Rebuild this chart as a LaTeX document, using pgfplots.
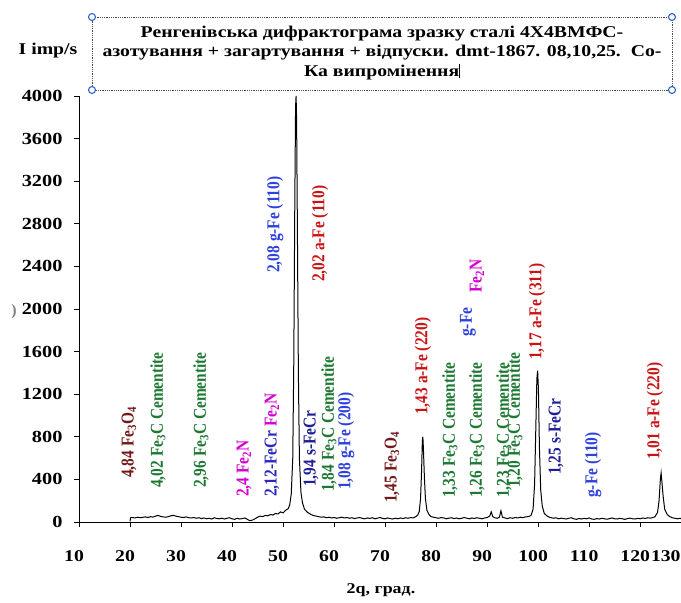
\documentclass[border=0pt]{standalone}
\usepackage{pgfplots}
\pgfplotsset{compat=1.18}
\usepackage{fontspec}
\setmainfont{Liberation Serif}
\newfontfamily\wide[FakeStretch=1.2]{Liberation Serif}
\newfontfamily\narrow[FakeStretch=0.85]{Liberation Serif}

\definecolor{cbrown}{RGB}{115,25,25}
\definecolor{cgreen}{RGB}{30,120,50}
\definecolor{cmag}{RGB}{210,0,210}
\definecolor{cblue}{RGB}{45,65,220}
\definecolor{cblue2}{RGB}{40,40,190}
\definecolor{cnavy}{RGB}{30,30,150}
\definecolor{cred}{RGB}{200,20,20}
\definecolor{handle}{RGB}{50,100,200}

\newcommand{\ann}{\narrow\fontsize{18.2}{18.2}\selectfont\bfseries}
\newcommand{\fec}{Fe\textsubscript{3}C Cementite}

\begin{document}
\begin{tikzpicture}
\useasboundingbox (0,0) rectangle (681bp,603bp);
\begin{axis}[
    at={(79bp,81bp)}, anchor=south west,
    scale only axis, width=602bp, height=426bp,
    xmin=10, xmax=128, ymin=0, ymax=4000,
    axis x line*=bottom, axis y line*=left,
    axis line style={-, line width=0.9bp},
    xtick={10,20,...,120},
    ytick={0,400,...,4000},
    extra x ticks={126}, extra x tick labels={130},
    extra x tick style={tick style={draw=none}},
    tick align=outside, major tick length=5bp,
    tick style={black, line width=0.8bp},
    ticklabel style={font=\wide\fontsize{16.5}{16.5}\selectfont\bfseries},
    yticklabel style={font=\wide\fontsize{17}{17}\selectfont\bfseries, xshift=-8bp},
    /pgf/number format/assume math mode=true,
    /pgf/number format/1000 sep={},
    xticklabel style={yshift=-20bp, xshift=-5bp},
]
% diffractogram
\addplot[black, line width=1bp] table {
20.0 5
20.1 40
20.5 42
21 38
21.5 45
22 40
22.5 44
23 48
23.5 42
24 50
24.5 46
25 55
25.5 62
26 52
26.5 48
27 45
27.5 50
28 58
28.5 62
29 55
29.5 50
30 45
30.5 42
31 48
31.5 40
32 38
32.5 42
33 35
33.5 40
34 32
34.5 38
35 30
35.5 35
36 28
36.5 40
37 33
37.5 30
38 36
38.5 28
39 35
39.5 40
40 30
40.5 25
41 35
41.5 28
42 32
42.5 38
43 25
43.5 12
44 18
44.5 30
45 45
45.5 55
46 50
46.5 62
47 58
47.5 70
48 65
48.5 80
49 75
49.5 95
50 85
50.5 110
51 125
51.3 160
51.6 260
51.9 600
52.1 1500
52.3 3000
52.45 3900
52.55 4000
52.65 3800
52.8 2800
53.0 1400
53.2 600
53.5 280
53.8 180
54.2 120
54.8 90
55.5 70
56 60
56.5 55
57 50
57.5 45
58 48
58.5 40
59 45
59.5 38
60 42
60.5 35
61 40
61.5 45
62 38
62.5 42
63 35
63.5 40
64 32
64.5 38
65 42
65.5 35
66 30
66.5 38
67 34
67.5 40
68 30
68.5 36
69 42
69.5 34
70 30
70.5 38
71 32
71.5 28
72 36
72.5 30
73 38
73.5 32
74 40
74.5 35
75 42
75.5 38
76 50
76.4 65
76.7 100
76.95 220
77.15 480
77.3 760
77.4 800
77.5 700
77.7 420
77.9 220
78.2 110
78.6 70
79 50
79.5 45
80 40
80.5 35
81 42
81.5 38
82 30
82.5 36
83 40
83.5 32
84 38
84.5 30
85 35
85.5 42
86 36
86.5 30
87 38
87.5 33
88 40
88.5 35
89 30
89.5 38
90 42
90.5 55
90.8 95
91.1 50
91.5 40
92 35
92.4 45
92.7 105
93 45
93.5 38
94 32
94.5 40
95 35
95.5 42
96 38
96.5 45
97 40
97.5 48
98 50
98.6 60
99.0 120
99.3 350
99.55 900
99.75 1350
99.9 1420
100.05 1250
100.25 700
100.5 300
100.8 150
101.2 80
101.8 55
102.2 45
102.6 40
103 35
103.5 40
104 30
104.5 36
105 32
105.5 28
106 35
106.5 40
107 30
107.5 25
108 33
108.5 28
109 35
109.5 30
110 38
110.5 28
111 25
111.5 32
112 28
112.5 35
113 30
113.5 26
114 32
114.5 38
115 30
115.5 28
116 35
116.5 30
117 25
117.5 32
118 36
118.5 30
119 28
119.5 34
120 30
120.5 38
121 33
121.5 40
122 36
122.5 42
122.9 50
123.4 90
123.7 200
123.95 400
124.1 460
124.25 380
124.5 240
124.8 120
125.3 70
125.8 50
126.3 40
126.8 35
127.3 30
127.8 35
128 30
};
\end{axis}

\begin{scope}[x=1bp, y=-1bp, yshift=603bp]
% title box
\draw[gray!60!black, densely dotted, line width=0.8bp] (92,17) rectangle (672,90);
\foreach \p in {(92,17),(672,17),(92,90),(672,90)}
  \draw[handle, fill=white, line width=1.1bp] \p circle (3.5bp);
\node[align=center, font=\wide\fontsize{16.5}{19.5}\selectfont\bfseries] at (382,53)
  {Ренгенівська дифрактограма зразку сталі 4Х4ВМФС-\\
   азотування + загартування + відпуски. dmt-1867. 08,10,25.\ \ Co-\\
   Ка випромінення\rule[-2bp]{0.6bp}{14bp}};
% axis titles
\node[font=\wide\fontsize{16.5}{16.5}\selectfont\bfseries] at (48,51) {I imp/s};
\node[font=\wide\fontsize{15}{15}\selectfont\bfseries] at (381,590) {2q, град.};
\node[font=\fontsize{16}{16}\selectfont\bfseries, text=gray] at (14,312) {)};
% peak labels
\begin{scope}[every node/.style={rotate=90, anchor=west, inner sep=0pt, font=\ann}]
\node[text=cbrown] at (129,478) {4,84 Fe\textsubscript{3}O\textsubscript{4}};
\node[text=cgreen] at (158,488) {4,02 \fec};
\node[text=cgreen] at (201,488) {2,96 \fec};
\node[text=cmag]   at (244,497) {2,4 Fe\textsubscript{2}N};
\node at (272,497) {\textcolor{cblue2}{2,12-FeCr}\ \textcolor{cmag}{Fe\textsubscript{2}N}};
\node[text=cblue]  at (275,273) {2,08 g-Fe (110)};
\node[text=cred]   at (320,282) {2,02 a-Fe\ (110)};
\node[text=cnavy]  at (311,487) {1,94 s-FeCr};
\node[text=cgreen] at (329,492) {1,84 \fec};
\node[text=cblue]  at (346,490) {1,08 g-Fe (200)};
\node[text=cbrown] at (392,503) {1,45 Fe\textsubscript{3}O\textsubscript{4}};
\node[text=cred]   at (423,415) {1,43 a-Fe (220)};
\node[text=cgreen] at (450,498) {1,33 \fec};
\node[text=cgreen] at (477,498) {1,26 \fec};
\node[text=cblue]  at (468,337) {g-Fe};
\node[text=cmag]   at (477,293) {Fe\textsubscript{2}N};
\node[text=cgreen] at (504,498) {1,23 \fec};
\node[text=cgreen] at (515,488) {1,20 \fec};
\node[text=cred]   at (537,360) {1,17 a-Fe (311)};
\node[text=cnavy]  at (556,475) {1,25 s-FeCr};
\node[text=cblue]  at (593,498) {g-Fe (110)};
\node[text=cred]   at (655,460) {1,01 a-Fe (220)};
\end{scope}
\end{scope}
\end{tikzpicture}
\end{document}
